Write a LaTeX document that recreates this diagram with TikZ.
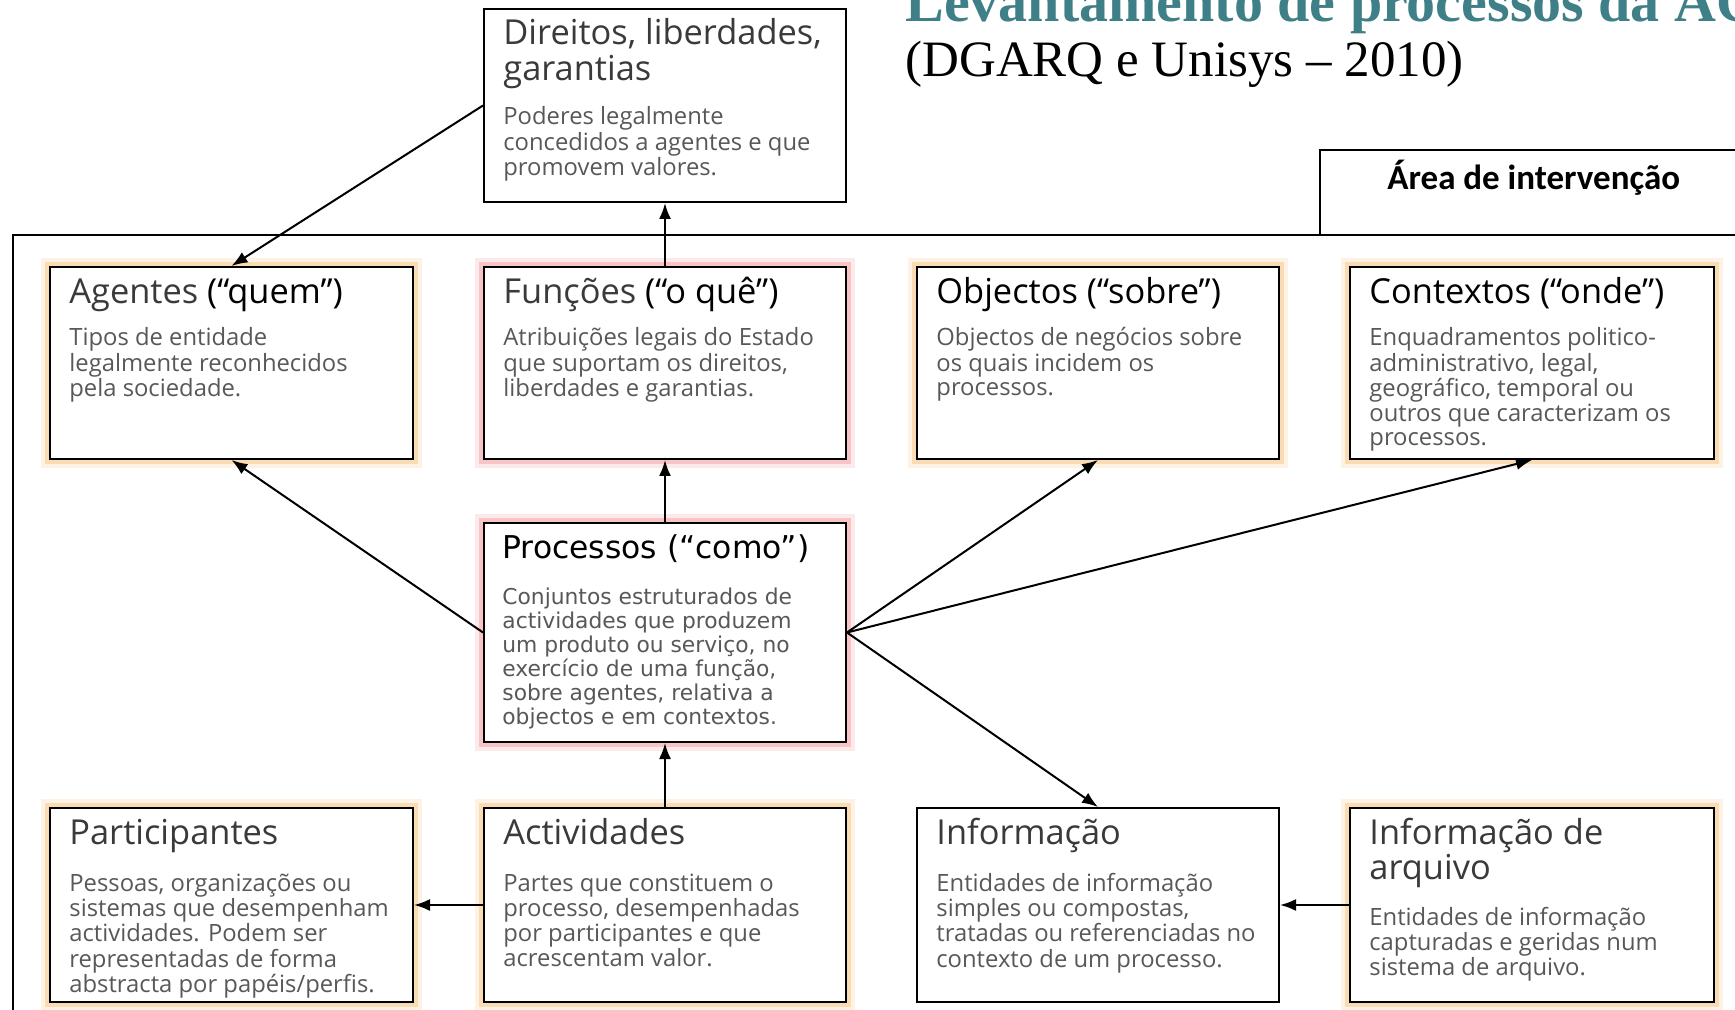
\documentclass[tikz,border=0pt]{standalone}
\usepackage{fontspec}
\setmainfont{Liberation Serif}
\newfontfamily\boxfont{Open Sans}
\newfontfamily\procfont{DejaVu Sans}
\newfontfamily\calfont{Carlito}
\usetikzlibrary{fit,calc,arrows.meta}

\definecolor{headteal}{HTML}{3F7F88}
\definecolor{titlegray}{HTML}{3A3A3A}
\definecolor{bodygray}{HTML}{585858}
\definecolor{gloworange}{HTML}{F7C27A}
\definecolor{glowpink}{HTML}{F29A9A}

% multi-line text whose baseline is the first line
\newcommand\stack[1]{\begin{tabular}[t]{@{}l@{}}#1\end{tabular}}

\tikzset{
  box/.style={rectangle, draw=black, line width=1pt, fill=white, inner sep=0pt},
  glowO/.style={
    preaction={draw=gloworange, line width=9pt, draw opacity=0.2},
    preaction={draw=gloworange, line width=5pt, draw opacity=0.45}},
  glowP/.style={
    preaction={draw=glowpink, line width=9pt, draw opacity=0.2},
    preaction={draw=glowpink, line width=5pt, draw opacity=0.45}},
  ttl/.style={anchor=base west, inner sep=0pt, text=titlegray,
    font=\boxfont\fontsize{17.2}{16.8}\selectfont},
  bodytxt/.style={anchor=base west, inner sep=0pt, text=bodygray,
    font=\boxfont\fontsize{11.9}{12.1}\selectfont},
  pttl/.style={anchor=base west, inner sep=0pt, text=black,
    font=\procfont\fontsize{15.7}{16}\selectfont},
  pbody/.style={anchor=base west, inner sep=0pt, text=bodygray,
    font=\procfont\fontsize{10.9}{12}\selectfont},
  conn/.style={line width=1pt, -{Latex[length=8pt,width=6pt]}},
}

\begin{document}
\begin{tikzpicture}[x=0.5pt,y=-0.5pt]
\clip (0,0) rectangle (1735,1010);
\fill[white] (0,0) rectangle (1735,1010);

% heading
\node[anchor=base west, inner sep=0pt, text=headteal,
  font=\bfseries\fontsize{29}{32}\selectfont] (head) at (905,22)
  {Levantamento de processos da AC};
\node[anchor=base west, inner sep=0pt,
  font=\fontsize{25.5}{30}\selectfont] (sub) at (905,77)
  {(DGARQ e Unisys – 2010)};

% frame of the intervention area and its tab
\node[rectangle, draw=black, line width=1pt, inner sep=0pt,
  fit={(13,235)(1760,1040)}] (frame) {};
\node[box, fit={(1320,150)(1760,235)}] (area) {};
\node[anchor=base west, inner sep=0pt,
  font=\calfont\bfseries\fontsize{17.5}{20}\selectfont]
  (areatxt) at ($(area.north west)+(68,41)$) {Área de intervenção};

% boxes
\node[box, fit={(484,9)(846,202)}] (dir) {};
\node[box, glowO, fit={(50,267)(413,459)}] (ag) {};
\node[box, glowP, fit={(484,267)(846,459)}] (fu) {};
\node[box, glowO, fit={(917,267)(1279,459)}] (ob) {};
\node[box, glowO, fit={(1350,267)(1714,459)}] (ctx) {};
\node[box, glowP, fit={(484,523)(846,742)}] (pr) {};
\node[box, glowO, fit={(50,808)(413,1002)}] (part) {};
\node[box, glowO, fit={(484,808)(846,1002)}] (act) {};
\node[box, fit={(917,808)(1279,1002)}] (inf) {};
\node[box, glowO, fit={(1350,808)(1714,1002)}] (arq) {};

% box texts
\node[ttl] (dir-t) at ($(dir.north west)+(20,37)$) {\stack{Direitos, liberdades,\\garantias}};
\node[bodytxt] (dir-b) at ($(dir.north west)+(20,117)$)
  {\stack{Poderes legalmente\\concedidos a agentes e que\\promovem valores.}};

\node[ttl] (ag-t) at ($(ag.north west)+(20,38)$) {Agentes \textcolor{black}{(“quem”)}};
\node[bodytxt] (ag-b) at ($(ag.north west)+(20,80)$)
  {\stack{Tipos de entidade\\legalmente reconhecidos\\pela sociedade.}};

\node[ttl] (fu-t) at ($(fu.north west)+(20,38)$) {Funções \textcolor{black}{(“o quê”)}};
\node[bodytxt] (fu-b) at ($(fu.north west)+(20,80)$)
  {\stack{Atribuições legais do Estado\\que suportam os direitos,\\liberdades e garantias.}};

\node[ttl, text=black] (ob-t) at ($(ob.north west)+(20,38)$) {Objectos (“sobre”)};
\node[bodytxt] (ob-b) at ($(ob.north west)+(20,80)$)
  {\stack{Objectos de negócios sobre\\os quais incidem os\\processos.}};

\node[ttl, text=black] (ctx-t) at ($(ctx.north west)+(20,38)$) {Contextos (“onde”)};
\node[bodytxt] (ctx-b) at ($(ctx.north west)+(20,80)$)
  {\stack{Enquadramentos politico-\\administrativo, legal,\\geográfico, temporal ou\\outros que caracterizam os\\processos.}};

\node[pttl] (pr-t) at ($(pr.north west)+(19,36)$) {Processos (“como”)};
\node[pbody] (pr-b) at ($(pr.north west)+(19,82)$)
  {\stack{Conjuntos estruturados de\\actividades que produzem\\um produto ou serviço, no\\exercício de uma função,\\sobre agentes, relativa a\\objectos e em contextos.}};

\node[ttl] (part-t) at ($(part.north west)+(20,37)$) {Participantes};
\node[bodytxt] (part-b) at ($(part.north west)+(20,84)$)
  {\stack{Pessoas, organizações ou\\sistemas que desempenham\\actividades. Podem ser\\representadas de forma\\abstracta por papéis/perfis.}};

\node[ttl] (act-t) at ($(act.north west)+(20,37)$) {Actividades};
\node[bodytxt] (act-b) at ($(act.north west)+(20,84)$)
  {\stack{Partes que constituem o\\processo, desempenhadas\\por participantes e que\\acrescentam valor.}};

\node[ttl] (inf-t) at ($(inf.north west)+(20,37)$) {Informação};
\node[bodytxt] (inf-b) at ($(inf.north west)+(20,84)$)
  {\stack{Entidades de informação\\simples ou compostas,\\tratadas ou referenciadas no\\contexto de um processo.}};

\node[ttl] (arq-t) at ($(arq.north west)+(20,37)$) {\stack{Informação de\\arquivo}};
\node[bodytxt] (arq-b) at ($(arq.north west)+(20,118)$)
  {\stack{Entidades de informação\\capturadas e geridas num\\sistema de arquivo.}};

% connectors
\draw[conn] (dir.west) -- (ag.north);
\draw[conn] (fu.north) -- (dir.south);
\draw[conn] (pr.west) -- (ag.south);
\draw[conn] (pr.north) -- (fu.south);
\draw[conn] (pr.east) -- (ob.south);
\draw[conn] (pr.east) -- (ctx.south);
\draw[conn] (pr.east) -- (inf.north);
\draw[conn] (act.north) -- (pr.south);
\draw[conn] (act.west) -- (part.east);
\draw[conn] (arq.west) -- (inf.east);
\end{tikzpicture}
\end{document}
